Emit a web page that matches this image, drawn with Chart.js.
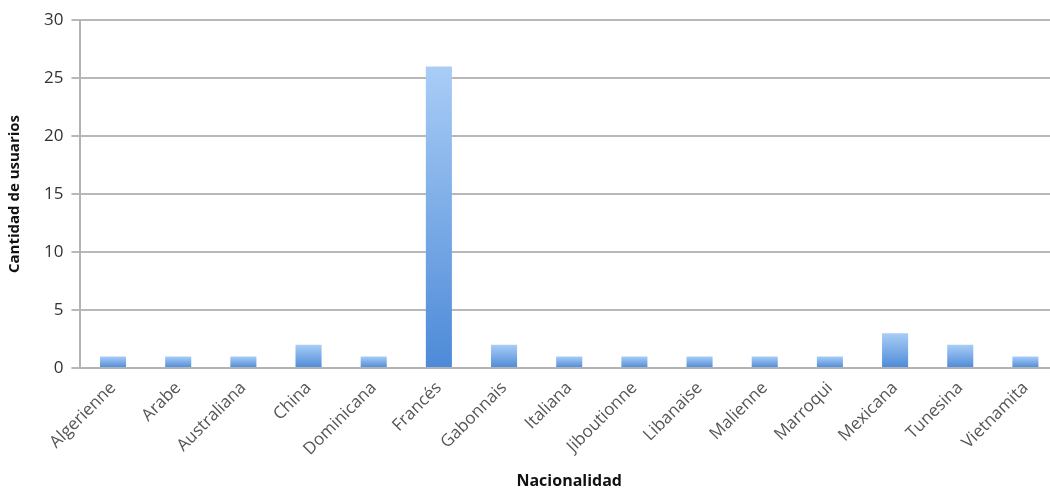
<!DOCTYPE html>
<html><head><meta charset="utf-8">
<script src="https://cdn.jsdelivr.net/npm/chart.js@4/dist/chart.umd.min.js"></script>
<style>html,body{margin:0;padding:0;overflow:hidden;background:#fff}#wrap{width:1058px;height:493px}</style>
</head><body><div id="wrap"><canvas id="c" width="1058" height="493"></canvas></div>
<script>
const categories = ["Algerienne","Arabe","Australiana","China","Dominicana","Francés","Gabonnais","Italiana","Jiboutionne","Libanaise","Malienne","Marroqui","Mexicana","Tunesina","Vietnamita"];
const usuarios = [1,1,1,2,1,26,2,1,1,1,1,1,3,2,1];
const yTicks = [0,5,10,15,20,25,30];
const xTitle = "Nacionalidad";
const yTitle = "Cantidad de usuarios";

function barFill(ctx){
  const chart = ctx.chart;
  const area = chart.chartArea;
  if(!area || ctx.dataIndex === undefined) return '#6fa3e6';
  const ys = chart.scales.y;
  const top = ys.getPixelForValue(usuarios[ctx.dataIndex]);
  const bot = ys.getPixelForValue(0);
  const g = chart.ctx.createLinearGradient(0, top, 0, bot);
  g.addColorStop(0, '#a9cdf6');
  g.addColorStop(1, '#4d8ad8');
  return g;
}

new Chart(document.getElementById('c'), {
  type: 'bar',
  data: { labels: categories, datasets: [{ data: usuarios, backgroundColor: barFill, borderWidth: 0, barPercentage: 0.4, categoryPercentage: 1 }] },
  options: {
    responsive: false, animation: false, devicePixelRatio: 1,
    layout: { padding: { top: 20, right: 0, left: 6, bottom: 2 } },
    plugins: { legend: { display: false }, tooltip: { enabled: false } },
    scales: {
      x: {
        afterFit: (s) => { s.height = 123; },
        grid: { display: false, drawTicks: false },
        border: { display: true, color: '#b3b3b3', width: 2 },
        ticks: { maxRotation: 45, minRotation: 45, color: '#555', font: { family: 'Open Sans', size: 17 }, padding: 10, autoSkip: false },
        title: { display: true, text: xTitle, color: '#111', font: { family: 'Open Sans', size: 16, weight: 'bold' }, padding: { top: 0, bottom: 0 } }
      },
      y: {
        min: 0, max: 30,
        afterBuildTicks: (s) => { s.ticks = yTicks.map(v => ({ value: v })); },
        grid: { color: '#b8b8b8', lineWidth: 2, tickLength: 9, drawTicks: true },
        border: { display: true, color: '#b3b3b3', width: 2 },
        ticks: { color: '#333', font: { family: 'Open Sans', size: 17 }, padding: 8 },
        title: { display: true, text: yTitle, color: '#111', font: { family: 'Open Sans', size: 15, weight: 'bold' }, padding: { top: 0, bottom: 12 } }
      }
    }
  }
});
</script></body></html>
